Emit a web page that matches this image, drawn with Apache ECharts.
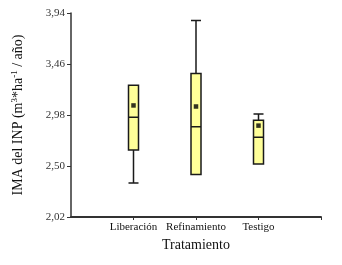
<!DOCTYPE html>
<html>
<head>
<meta charset="utf-8">
<script src="https://cdn.jsdelivr.net/npm/echarts@6/dist/echarts.min.js"></script>
<style>
  html, body { margin: 0; padding: 0; background: #fff; }
  #main { width: 342px; height: 265px; }
</style>
</head>
<body>
<div id="main"></div>
<script>
// categorias (con huecos en los extremos, como en el eje original)
var categorias = ['', 'Liberación', 'Refinamiento', 'Testigo', ''];
// [min, Q1, mediana, Q3, max]
var cajas = [
  [2.34, 2.65, 2.96, 3.26, 3.26],
  [2.42, 2.42, 2.87, 3.37, 3.87],
  [2.52, 2.52, 2.77, 2.93, 2.99]
];
var medias = [3.07, 3.06, 2.88];
var marcasY = [2.02, 2.50, 2.98, 3.46, 3.94];

var chart = echarts.init(document.getElementById('main'), null, { renderer: 'canvas' });

var fuente = 'Liberation Serif';
var vacio = ['-', '-', '-', '-', '-'];

var datosCajas = [vacio].concat(cajas).concat([vacio]);
var datosMedias = medias.map(function (m, i) { return [i + 1, m]; });

var option = {
  backgroundColor: '#fff',
  animation: false,
  grid: { left: 71, right: 21, top: 13, bottom: 48 },
  xAxis: {
    type: 'category',
    data: categorias,
    boundaryGap: false,
    name: 'Tratamiento',
    nameLocation: 'middle',
    nameGap: 15,
    nameTextStyle: { fontFamily: fuente, fontSize: 14, color: '#111' },
    axisLine: { lineStyle: { color: '#333', width: 2 } },
    axisTick: {
      show: true, length: 3, inside: false,
      interval: function (i) { return i > 0; },
      lineStyle: { color: '#333' }
    },
    axisLabel: { fontFamily: fuente, fontSize: 11, color: '#111', margin: 5, interval: 0 },
    splitLine: { show: false }
  },
  yAxis: {
    type: 'value',
    min: 2.02,
    max: 3.94,
    name: 'IMA del INP (m{sup|3}*ha{sup|-1} / año)',
    nameLocation: 'middle',
    nameRotate: 90,
    nameGap: 45,
    nameTextStyle: {
      fontFamily: fuente, fontSize: 14, color: '#111',
      rich: { sup: { fontFamily: fuente, fontSize: 9, color: '#111', verticalAlign: 'top', padding: [0, 0, 7, 0] } }
    },
    axisLine: { show: true, lineStyle: { color: '#333', width: 1.5 } },
    axisTick: { show: true, length: 4, customValues: marcasY, lineStyle: { color: '#333' } },
    axisLabel: {
      customValues: marcasY,
      fontFamily: fuente, fontSize: 11, color: '#333', margin: 6,
      formatter: function (v) { return v.toFixed(2).replace('.', ','); }
    },
    splitLine: { show: false }
  },
  series: [
    {
      type: 'boxplot',
      boxWidth: [10, 10],
      data: datosCajas,
      itemStyle: { color: '#ffff99', borderColor: '#1a1a1a', borderWidth: 1.5 }
    },
    {
      type: 'scatter',
      symbol: 'rect',
      symbolSize: 4.5,
      data: datosMedias,
      itemStyle: { color: '#000' },
      z: 5
    }
  ]
};

chart.setOption(option);
</script>
</body>
</html>
